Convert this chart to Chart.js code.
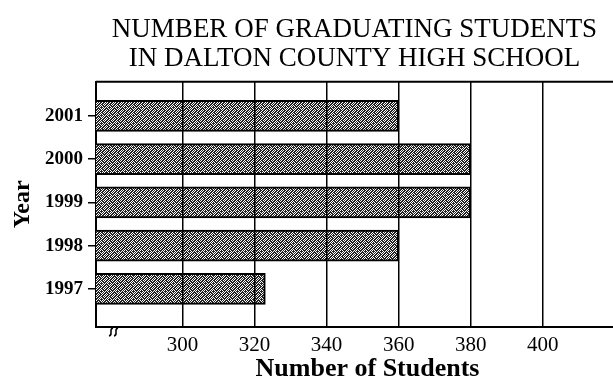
<!DOCTYPE html>
<html>
<head>
<meta charset="utf-8">
<script src="https://cdn.jsdelivr.net/npm/chart.js@4.4.1/dist/chart.umd.min.js"></script>
<style>
  body { margin: 0; background: #fff; }
  #wrap { width: 613px; height: 385px; position: relative; }
</style>
</head>
<body>
<div id="wrap"><canvas id="chart"></canvas></div>
<script>
// data
var years = [2001, 2000, 1999, 1998, 1997];
var students = [360, 380, 380, 360, 323];
var xTicks = [300, 320, 340, 360, 380, 400];

var serif = "'Liberation Serif', 'DejaVu Serif', serif";

// stipple fill like the printed bars
function makePattern() {
    var rows = ['10110110',
                '01101011',
                '11010101',
                '10101110',
                '01110101',
                '11011010',
                '10101101',
                '01011011'];
    var pc = document.createElement('canvas');
    pc.width = 8; pc.height = 8;
    var pctx = pc.getContext('2d');
    pctx.fillStyle = '#fff';
    pctx.fillRect(0, 0, 8, 8);
    pctx.fillStyle = '#222';
    for (var r = 0; r < rows.length; r++) {
        for (var c = 0; c < rows[r].length; c++) {
            if (rows[r][c] == '1') pctx.fillRect(c, r, 1, 1);
        }
    }
    return pctx.createPattern(pc, 'repeat');
}

// top frame line + axis break mark
var framePlugin = {
    id: 'frame',
    afterDraw: function(chart) {
        var ctx = chart.ctx, a = chart.chartArea;
        ctx.save();
        ctx.strokeStyle = '#000';
        ctx.lineWidth = 2;
        ctx.beginPath();
        ctx.moveTo(a.left, a.top);
        ctx.lineTo(a.right, a.top);
        ctx.stroke();
        // break symbol
        ctx.lineWidth = 1.5;
        for (var k = 0; k < 2; k++) {
            var bx = a.left + 15 + k * 5;
            ctx.beginPath();
            ctx.moveTo(bx - 2, a.bottom + 9);
            ctx.bezierCurveTo(bx + 3, a.bottom + 8, bx - 3, a.bottom + 2, bx + 2, a.bottom + 1);
            ctx.stroke();
        }
        ctx.restore();
    }
};

var data = years.map(function(y, i) { return {x: students[i], y: y}; });

new Chart(document.getElementById('chart'), {
    type: 'bar',
    data: {
        datasets: [{
            data: data,
            backgroundColor: makePattern(),
            borderColor: '#000',
            borderWidth: 2,
            borderSkipped: false,
            barThickness: 31
        }]
    },
    options: {
        indexAxis: 'y',
        responsive: true,
        maintainAspectRatio: false,
        animation: false,
        layout: { padding: 0 },
        plugins: {
            legend: { display: false },
            tooltip: { enabled: false },
            title: {
                display: true,
                fullSize: false,
                text: ['NUMBER OF GRADUATING STUDENTS', 'IN DALTON COUNTY HIGH SCHOOL'],
                color: '#000',
                font: { family: serif, size: 27, weight: 'normal', lineHeight: 1.05 },
                padding: { top: 16, bottom: 9 }
            }
        },
        scales: {
            x: {
                type: 'linear',
                min: 276,
                max: 419.5,
                afterBuildTicks: function(scale) {
                    scale.ticks = xTicks.map(function(v) { return {value: v}; });
                },
                afterFit: function(scale) { scale.height = 58; },
                // grid on top of the bars; border in the same layer so it is placed right
                grid: { color: '#000', lineWidth: 1.5, drawTicks: false, z: 1 },
                border: { color: '#000', width: 2, z: 1 },
                ticks: {
                    color: '#000',
                    padding: 6,
                    font: { family: serif, size: 21 },
                    callback: function(v) { return String(v); }
                },
                title: {
                    display: true,
                    text: '    Number of Students',
                    color: '#000',
                    font: { family: serif, size: 26, weight: 'bold' },
                    padding: 0
                }
            },
            y: {
                type: 'linear',
                offset: false,
                min: 1996.12,
                max: 2001.79,
                afterBuildTicks: function(scale) {
                    scale.ticks = years.map(function(v) { return {value: v}; });
                },
                afterFit: function(scale) { scale.width = 96; },
                grid: { display: true, offset: false, drawOnChartArea: false, drawTicks: true, tickLength: 8, color: '#000', lineWidth: 1.5 },
                border: { color: '#000', width: 2 },
                ticks: {
                    color: '#000',
                    padding: 5,
                    font: { family: serif, size: 19, weight: 'bold' },
                    callback: function(v) { return String(v); }
                },
                title: {
                    display: true,
                    text: 'Year',
                    color: '#000',
                    font: { family: serif, size: 24, weight: 'bold' },
                    padding: { top: 8, bottom: 0 }
                }
            }
        }
    },
    plugins: [framePlugin]
});
</script>
</body>
</html>
